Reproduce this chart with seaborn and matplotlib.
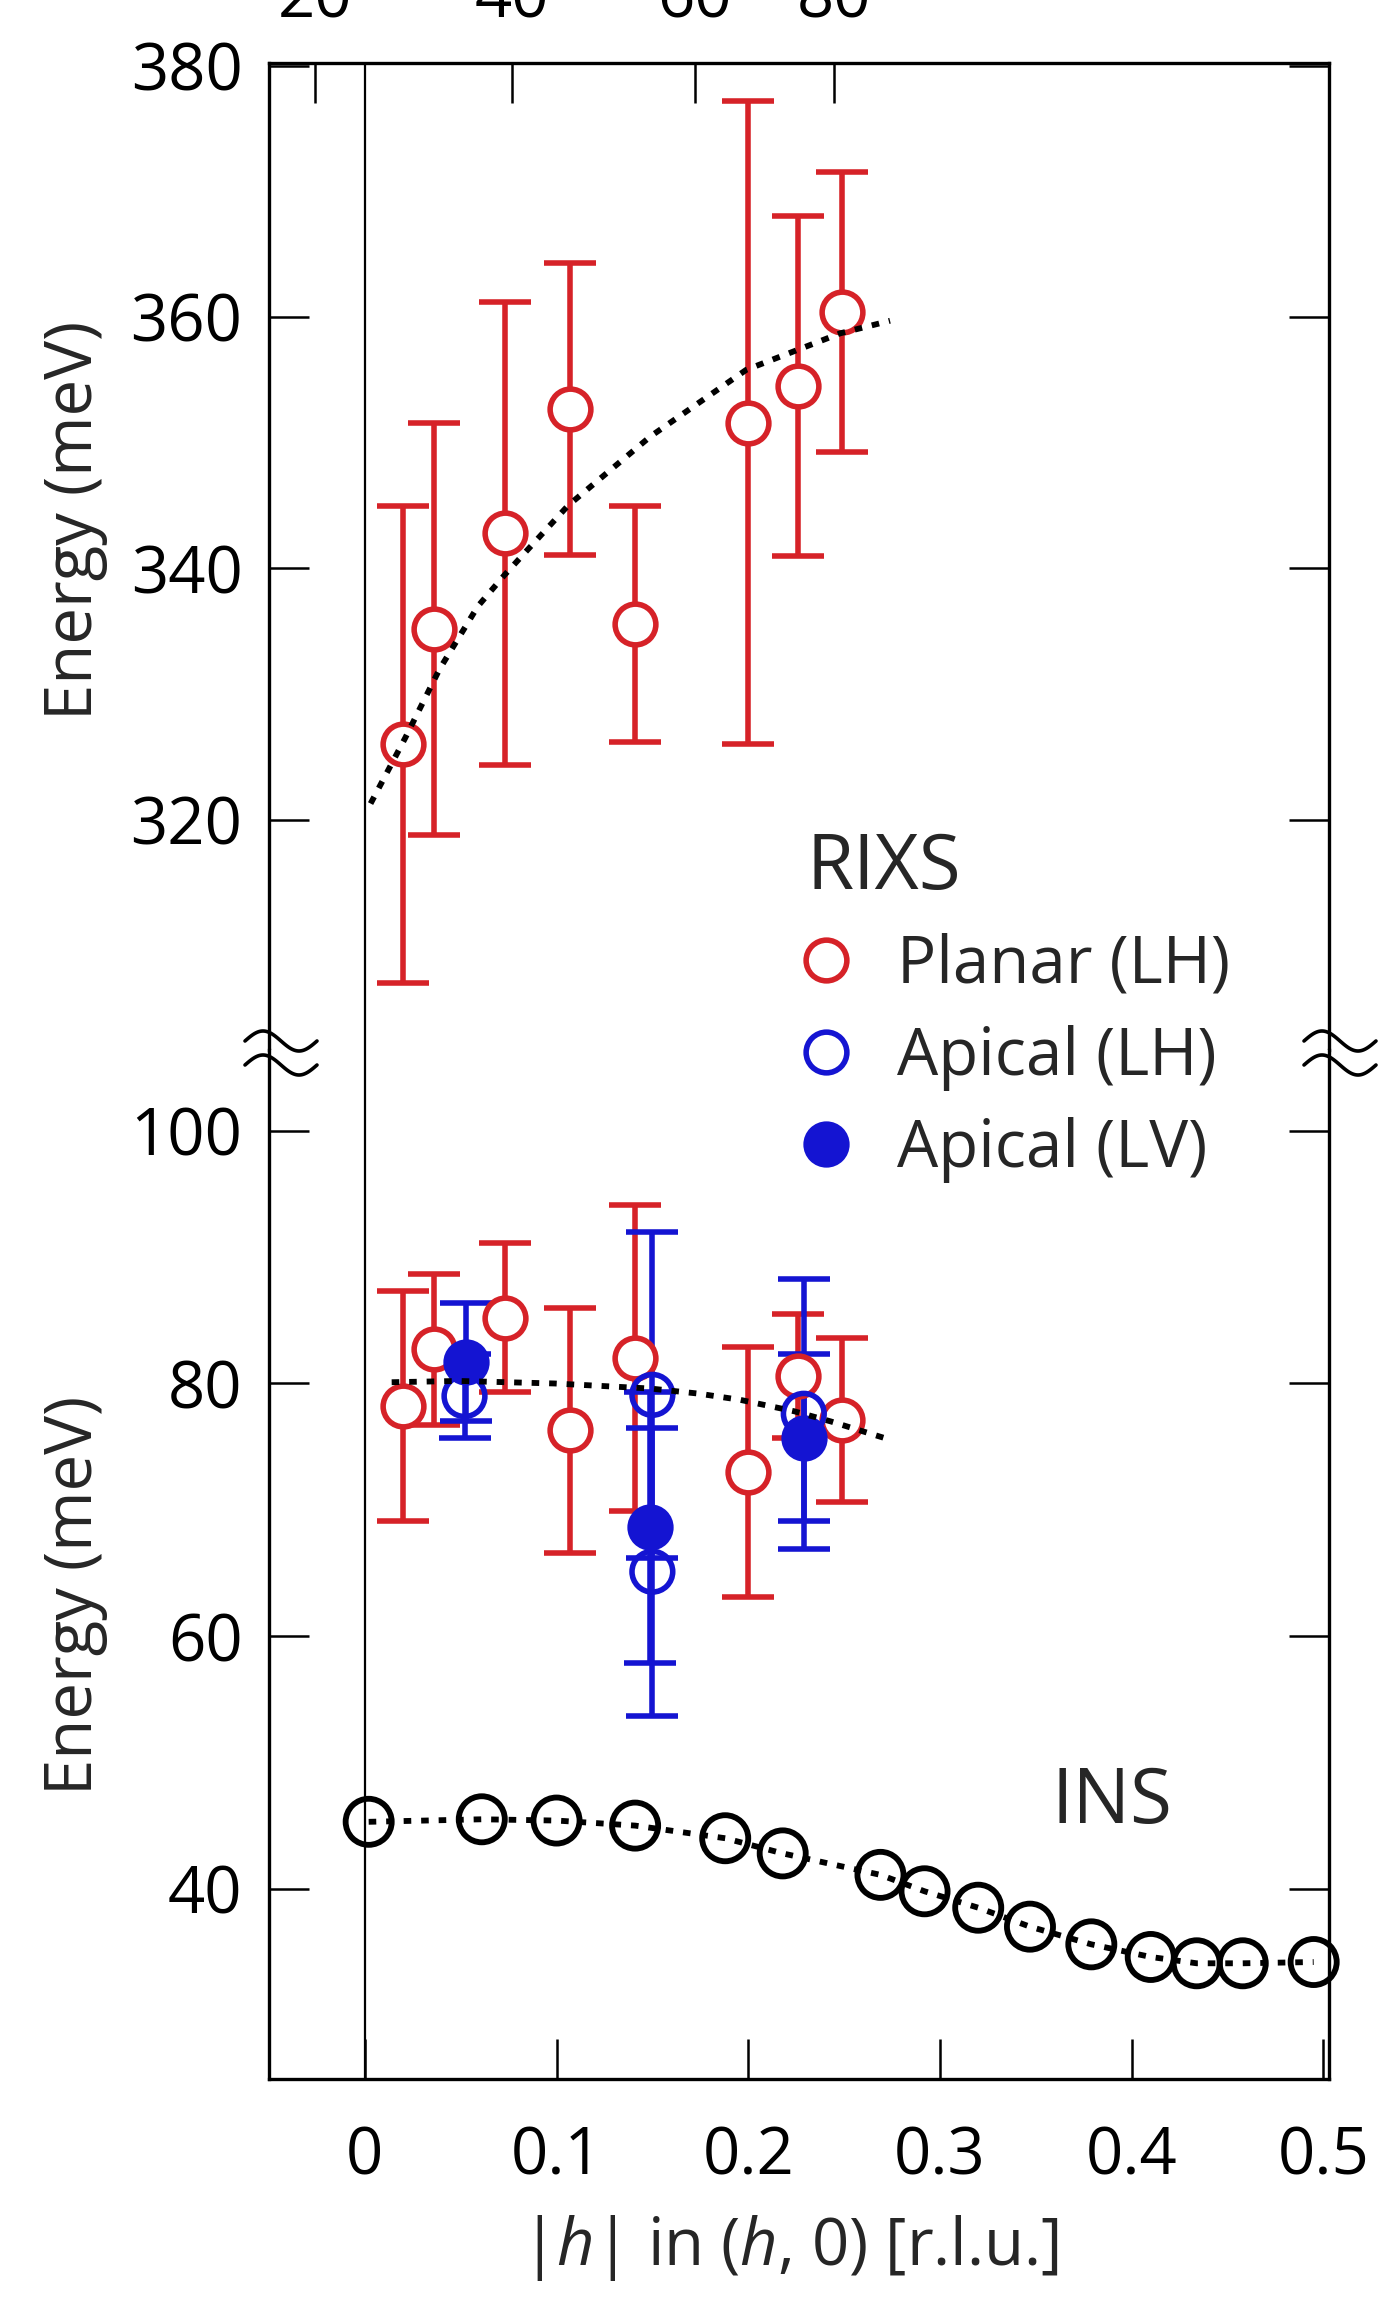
import numpy as np
import matplotlib
matplotlib.use("Agg")
import matplotlib.pyplot as plt
from matplotlib.lines import Line2D
import seaborn as sns

# ---------------- data ----------------
# RIXS planar (LH), top branch (~320-360 meV)
planar_h = [0.020, 0.036, 0.073, 0.107, 0.141, 0.200, 0.226, 0.249]
planar_hi_E = [326.0, 335.2, 342.8, 352.7, 335.6, 351.6, 354.5, 360.4]
planar_hi_err = [19.0, 16.4, 18.4, 11.6, 9.4, 25.6, 13.5, 11.1]
# RIXS planar (LH), low branch (~80 meV)
planar_lo_E = [78.2, 82.7, 85.2, 76.3, 82.0, 73.0, 80.6, 77.1]
planar_lo_err = [9.1, 6.0, 5.9, 9.7, 12.1, 9.9, 4.9, 6.5]
# RIXS apical (LH) - open blue
apLH_h = [0.052, 0.150, 0.150, 0.229]
apLH_E = [79.0, 79.1, 65.1, 77.6]
apLH_err = [3.3, 12.9, 11.4, 10.7]
# RIXS apical (LV) - filled blue
apLV_h = [0.053, 0.149, 0.229]
apLV_E = [81.7, 68.6, 75.7]
apLV_err = [4.7, 10.7, 6.6]
# INS
ins_h = [0.002, 0.061, 0.100, 0.141, 0.188, 0.218, 0.269, 0.292, 0.320,
         0.347, 0.379, 0.410, 0.434, 0.458, 0.495]
ins_E = [45.3, 45.5, 45.4, 45.0, 44.0, 42.8, 41.1, 39.8, 38.5,
         37.0, 35.6, 34.6, 34.1, 34.1, 34.2]
# dotted guide lines
fit_hi_h = [0.003, 0.021, 0.039, 0.059, 0.073, 0.106, 0.149, 0.199, 0.248, 0.274]
fit_hi_E = [321.3, 326.5, 332.0, 337.0, 339.5, 345.0, 350.5, 355.8, 358.7, 359.7]
fit_lo_h = [0.014, 0.049, 0.099, 0.149, 0.174, 0.196, 0.224, 0.243, 0.275]
fit_lo_E = [80.1, 80.2, 80.0, 79.6, 79.2, 78.7, 77.8, 77.0, 75.5]

top_tick_pos = [-0.026, 0.077, 0.172, 0.245]
top_tick_labels = ["20", "40", "60", "80"]
bot_ticks = [0, 0.1, 0.2, 0.3, 0.4, 0.5]
bot_tick_labels = ["0", "0.1", "0.2", "0.3", "0.4", "0.5"]
hi_yticks = [320, 340, 360, 380]
lo_yticks = [40, 60, 80, 100]

# ---------------- style ----------------
sns.set_theme(style="ticks")
plt.rcParams["font.family"] = ["Open Sans", "DejaVu Sans"]
plt.rcParams["mathtext.fontset"] = "custom"
plt.rcParams["mathtext.rm"] = "Open Sans"
plt.rcParams["mathtext.it"] = "Open Sans:italic"

RED = "#d62228"
BLUE = "#1414d2"
FS = 47
W_FIG, H_FIG = 1378, 2303

fig = plt.figure(figsize=(W_FIG / 100, H_FIG / 100), dpi=100)
L = 269 / W_FIG
W = (1329 - 269) / W_FIG
ax_hi = fig.add_axes([L, 1 - 1050 / H_FIG, W, 987 / H_FIG])
ax_lo = fig.add_axes([L, 1 - 2079 / H_FIG, W, 1029 / H_FIG])

XLIM = (-0.050, 0.503)
MS = 860
LW = 4.0
CAP = 19
dots = (0, (1.3, 1.7))

for ax in (ax_hi, ax_lo):
    ax.set_xlim(*XLIM)
    ax.axvline(0, color="black", lw=1.6, zorder=1)
    for s in ax.spines.values():
        s.set_linewidth(2.4)
        s.set_color("black")
    ax.tick_params(axis="both", direction="in", length=29, width=1.8,
                   labelsize=FS, color="black", labelcolor="black")
    ax.tick_params(axis="y", right=True, labelright=False, pad=19)

ax_hi.set_ylim(301.7, 380.2)
ax_lo.set_ylim(24.94, 106.4)
ax_hi.spines["bottom"].set_visible(False)
ax_lo.spines["top"].set_visible(False)

ax_hi.set_yticks(hi_yticks)
ax_hi.set_yticklabels([str(v) for v in hi_yticks])
ax_lo.set_yticks(lo_yticks)
ax_lo.set_yticklabels([str(v) for v in lo_yticks])

ax_hi.xaxis.tick_top()
ax_hi.set_xticks(top_tick_pos)
ax_hi.set_xticklabels(top_tick_labels)
ax_hi.tick_params(axis="x", top=True, bottom=False, labeltop=True,
                  labelbottom=False, pad=21)
ax_lo.set_xticks(bot_ticks)
ax_lo.set_xticklabels(bot_tick_labels)
ax_lo.tick_params(axis="x", top=False, bottom=True, pad=33)

# ---------------- top panel ----------------
sns.lineplot(x=fit_hi_h, y=fit_hi_E, ax=ax_hi, color="black", lw=4.2,
             linestyle=dots, estimator=None, sort=False, zorder=4)
ax_hi.errorbar(planar_h, planar_hi_E, yerr=planar_hi_err, fmt="none",
               ecolor=RED, elinewidth=LW, capsize=CAP, capthick=LW, zorder=2)
sns.scatterplot(x=planar_h, y=planar_hi_E, ax=ax_hi, s=MS, marker="o",
                color=RED, facecolor="white", edgecolor=RED, linewidth=LW,
                zorder=3, legend=False)

# ---------------- bottom panel ----------------
ax_lo.errorbar(planar_h, planar_lo_E, yerr=planar_lo_err, fmt="none",
               ecolor=RED, elinewidth=LW, capsize=CAP, capthick=LW, zorder=2)
ax_lo.errorbar(apLH_h, apLH_E, yerr=apLH_err, fmt="none",
               ecolor=BLUE, elinewidth=LW, capsize=CAP, capthick=LW, zorder=2)
ax_lo.errorbar(apLV_h, apLV_E, yerr=apLV_err, fmt="none",
               ecolor=BLUE, elinewidth=LW, capsize=CAP, capthick=LW, zorder=2)
sns.scatterplot(x=planar_h, y=planar_lo_E, ax=ax_lo, s=MS, marker="o",
                color=RED, facecolor="white", edgecolor=RED, linewidth=LW,
                zorder=3, legend=False)
sns.scatterplot(x=apLH_h, y=apLH_E, ax=ax_lo, s=MS, marker="o",
                color=BLUE, facecolor="none", edgecolor=BLUE, linewidth=LW,
                zorder=3, legend=False)
sns.scatterplot(x=apLV_h, y=apLV_E, ax=ax_lo, s=MS, marker="o",
                color=BLUE, facecolor=BLUE, edgecolor=BLUE, linewidth=LW,
                zorder=3, legend=False)
sns.lineplot(x=fit_lo_h, y=fit_lo_E, ax=ax_lo, color="black", lw=4.2,
             linestyle=dots, estimator=None, sort=False, zorder=4)

# INS
sns.scatterplot(x=ins_h, y=ins_E, ax=ax_lo, s=1100, marker="o",
                color="black", facecolor="none", edgecolor="black",
                linewidth=4.2, zorder=5, legend=False, clip_on=False)
sns.lineplot(x=ins_h, y=ins_E, ax=ax_lo, color="black", lw=4.2,
             linestyle=dots, estimator=None, sort=False, zorder=6)
ax_lo.text(0.390, 46.8, "INS", fontsize=55, ha="center", va="center")

for ax in (ax_hi, ax_lo):
    ax.set_xlabel("")
    ax.set_ylabel("")

# ---------------- legend ----------------
MSL = float(np.sqrt(MS))
handles = [
    Line2D([], [], ls="none", marker="o", ms=MSL, mew=LW, mfc="white", mec=RED),
    Line2D([], [], ls="none", marker="o", ms=MSL, mew=LW, mfc="none", mec=BLUE),
    Line2D([], [], ls="none", marker="o", ms=MSL, mew=LW, mfc=BLUE, mec=BLUE),
]
labels = ["Planar (LH)", "Apical (LH)", "Apical (LV)"]
leg = fig.legend(handles, labels, title="RIXS", title_fontsize=55,
                 fontsize=FS, loc="upper left",
                 bbox_to_anchor=(806 / W_FIG, 1 - 830 / H_FIG),
                 frameon=False, borderpad=0, borderaxespad=0,
                 handlelength=0.6, handletextpad=0.8, labelspacing=0.40,
                 alignment="left")

# ---------------- labels ----------------
fig.text(75 / W_FIG, 1 - 520 / H_FIG, "Energy (meV)", rotation=90,
         fontsize=FS, ha="center", va="center")
fig.text(75 / W_FIG, 1 - 1595 / H_FIG, "Energy (meV)", rotation=90,
         fontsize=FS, ha="center", va="center")
fig.text(790 / W_FIG, 1 - 2248 / H_FIG, r"|$h$| in ($h$, 0) [r.l.u.]",
         fontsize=FS, ha="center", va="center")

# axis break marks (two stacked tilde strokes)
t = np.linspace(-1, 1, 80)
for xc in (281, 1340):
    yc = H_FIG - 1053
    for dy in (12, -12):
        xs = (xc + 36 * t) / W_FIG
        ys = (yc + dy - 10 * np.sin(np.pi * t)) / H_FIG
        fig.add_artist(Line2D(xs, ys, transform=fig.transFigure,
                              color="black", lw=2.6, solid_capstyle="round"))

fig.savefig("out.png", dpi=100)
